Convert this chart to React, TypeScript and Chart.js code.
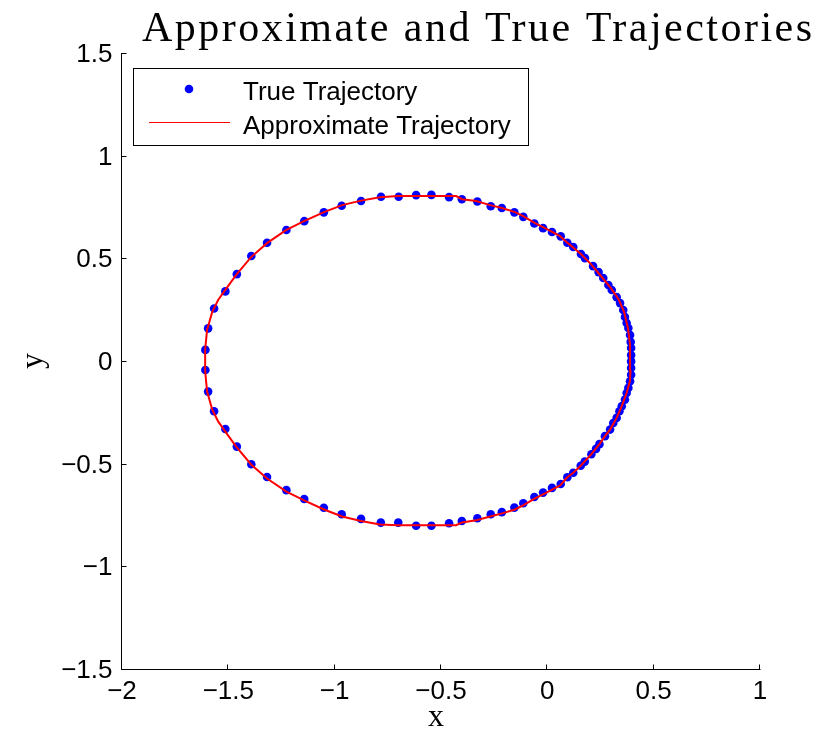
import { useEffect, useRef } from 'react';
import { Chart, registerables } from 'chart.js';

Chart.register(...registerables);

// Sampled points of the true orbit
const trueX = [
  0.394, 0.394, 0.392, 0.389, 0.381, 0.373, 0.365, 0.357, 0.342, 0.326,
  0.303, 0.287, 0.263, 0.241, 0.215, 0.177, 0.158, 0.122, 0.094, 0.063,
  0.022, -0.020, -0.061, -0.113, -0.155, -0.214, -0.266, -0.329, -0.402, -0.462,
  -0.545, -0.617, -0.699, -0.782, -0.876, -0.967, -1.051, -1.143, -1.227, -1.318,
  -1.392, -1.460, -1.514, -1.567, -1.595, -1.608, -1.608, -1.595, -1.567, -1.514,
  -1.460, -1.392, -1.318, -1.227, -1.143, -1.051, -0.967, -0.876, -0.783, -0.701,
  -0.617, -0.545, -0.462, -0.402, -0.329, -0.266, -0.214, -0.155, -0.113, -0.061,
  -0.020, 0.022, 0.063, 0.094, 0.122, 0.157, 0.176, 0.207, 0.229, 0.245,
  0.271, 0.295, 0.310, 0.326, 0.339, 0.350, 0.365, 0.373, 0.381, 0.389,
  0.394, 0.394, 0.394,
];
const trueY = [
  0.029, 0.063, 0.093, 0.127, 0.161, 0.185, 0.214, 0.248, 0.282, 0.311,
  0.346, 0.370, 0.404, 0.433, 0.462, 0.501, 0.521, 0.555, 0.576, 0.607,
  0.628, 0.647, 0.670, 0.702, 0.724, 0.745, 0.754, 0.777, 0.788, 0.798,
  0.809, 0.808, 0.800, 0.800, 0.779, 0.756, 0.724, 0.681, 0.638, 0.576,
  0.511, 0.423, 0.339, 0.256, 0.159, 0.054, -0.044, -0.149, -0.245, -0.331,
  -0.417, -0.503, -0.565, -0.629, -0.672, -0.715, -0.746, -0.769, -0.787, -0.787,
  -0.802, -0.802, -0.790, -0.779, -0.766, -0.746, -0.736, -0.714, -0.693, -0.662,
  -0.641, -0.618, -0.599, -0.566, -0.544, -0.510, -0.490, -0.454, -0.428, -0.405,
  -0.366, -0.334, -0.302, -0.277, -0.245, -0.220, -0.188, -0.156, -0.131, -0.099,
  -0.067, -0.034, -0.002,
];

// Vertices of the integrated (approximate) orbit
const approxX = [
  0.389, 0.389, 0.379, 0.361, 0.337, 0.299, 0.252, 0.205, 0.158, 0.097,
  0.060, -0.011, -0.058, -0.114, -0.152, -0.213, -0.269, -0.335, -0.401, -0.429,
  -0.702, -0.787, -0.876, -0.965, -1.050, -1.144, -1.229, -1.318, -1.393, -1.464,
  -1.515, -1.548, -1.576, -1.600, -1.609, -1.609, -1.600, -1.576, -1.548, -1.515,
  -1.464, -1.393, -1.318, -1.229, -1.144, -1.050, -0.965, -0.876, -0.787, -0.702,
  -0.429, -0.401, -0.335, -0.269, -0.213, -0.152, -0.114, -0.058, -0.011, 0.060,
  0.094, 0.122, 0.157, 0.207, 0.245, 0.271, 0.295, 0.326, 0.350, 0.373,
  0.388, 0.391, 0.389,
];
const approxY = [
  0.000, 0.078, 0.161, 0.238, 0.297, 0.355, 0.414, 0.472, 0.521, 0.574,
  0.608, 0.647, 0.672, 0.706, 0.725, 0.745, 0.759, 0.779, 0.788, 0.803,
  0.803, 0.798, 0.781, 0.759, 0.725, 0.681, 0.637, 0.574, 0.506, 0.418,
  0.345, 0.297, 0.238, 0.151, 0.054, -0.049, -0.148, -0.236, -0.294, -0.343,
  -0.416, -0.504, -0.572, -0.635, -0.679, -0.723, -0.757, -0.779, -0.796, -0.800,
  -0.800, -0.786, -0.776, -0.757, -0.742, -0.723, -0.703, -0.669, -0.645, -0.606,
  -0.566, -0.544, -0.510, -0.454, -0.405, -0.366, -0.334, -0.277, -0.220, -0.156,
  -0.099, -0.050, 0.000,
];

const xTickValues = [-2, -1.5, -1, -0.5, 0, 0.5, 1];
const xTickLabels = ['\u22122', '\u22121.5', '\u22121', '\u22120.5', '0', '0.5', '1'];
const yTickValues = [-1.5, -1, -0.5, 0, 0.5, 1, 1.5];
const yTickLabels = ['\u22121.5', '\u22121', '\u22120.5', '0', '0.5', '1', '1.5'];

const titleText = 'Approximate and True Trajectories';
const xLabel = 'x';
const yLabel = 'y';
const legendLabels = ['True Trajectory', 'Approximate Trajectory'];

const SANS = '"Liberation Sans", Arial, Helvetica, sans-serif';
const SERIF = '"Liberation Serif", "Times New Roman", serif';

// Draws the MATLAB-style frame: left/bottom axes with inward ticks, labels, title and legend.
const frame = {
  id: 'matlabFrame',
  afterDraw(chart: any) {
    const { ctx, chartArea, scales } = chart;
    const xs = scales.x;
    const ys = scales.y;
    const ax = Math.round(chartArea.left) - 0.5;
    const ay = Math.round(chartArea.bottom) + 0.5;
    const tick = 5;

    ctx.save();
    ctx.strokeStyle = '#000';
    ctx.lineWidth = 1;
    ctx.beginPath();
    ctx.moveTo(ax, Math.round(chartArea.top));
    ctx.lineTo(ax, ay);
    ctx.lineTo(Math.round(chartArea.right) + 0.5, ay);
    xTickValues.forEach((v) => {
      const px = Math.round(xs.getPixelForValue(v)) - 0.5;
      ctx.moveTo(px, ay);
      ctx.lineTo(px, ay - tick);
    });
    yTickValues.forEach((v) => {
      const py = Math.round(ys.getPixelForValue(v)) + 0.5;
      ctx.moveTo(ax, py);
      ctx.lineTo(ax + tick, py);
    });
    ctx.stroke();

    // tick labels
    ctx.fillStyle = '#000';
    ctx.font = `26px ${SANS}`;
    ctx.textBaseline = 'alphabetic';
    ctx.textAlign = 'center';
    xTickValues.forEach((v, i) => {
      ctx.fillText(xTickLabels[i], xs.getPixelForValue(v), ay + 29);
    });
    ctx.textAlign = 'right';
    yTickValues.forEach((v, i) => {
      ctx.fillText(yTickLabels[i], ax - 9, ys.getPixelForValue(v) + 9);
    });

    // title, spread to its measured span
    ctx.font = `42px ${SERIF}`;
    ctx.textAlign = 'left';
    const natural = ctx.measureText(titleText).width;
    const span = 670;
    const spacing = (span - natural) / (titleText.length - 1);
    (ctx as any).letterSpacing = `${spacing}px`;
    ctx.fillText(titleText, 142, 41);
    (ctx as any).letterSpacing = '0px';

    // axis labels
    ctx.font = `32px ${SERIF}`;
    ctx.textAlign = 'center';
    ctx.fillText(xLabel, xs.getPixelForValue(-0.5) - 5, 726);
    ctx.save();
    ctx.translate(42, ys.getPixelForValue(0));
    ctx.rotate(-Math.PI / 2);
    ctx.fillText(yLabel, 0, 0);
    ctx.restore();

    // legend
    const lx = 133.5;
    const ly = 68.5;
    const lw = 395;
    const lh = 77;
    ctx.fillStyle = '#fff';
    ctx.fillRect(lx, ly, lw, lh);
    ctx.strokeStyle = '#000';
    ctx.strokeRect(lx, ly, lw, lh);

    ctx.fillStyle = '#0000ff';
    ctx.beginPath();
    ctx.arc(189, 89, 4.3, 0, Math.PI * 2);
    ctx.fill();

    ctx.strokeStyle = '#ff0000';
    ctx.beginPath();
    ctx.moveTo(149, 122.5);
    ctx.lineTo(230, 122.5);
    ctx.stroke();

    ctx.fillStyle = '#000';
    ctx.font = `26px ${SANS}`;
    ctx.textAlign = 'left';
    ctx.fillText(legendLabels[0], 243, 100);
    ctx.fillText(legendLabels[1], 243, 134);
    ctx.restore();
  },
};

export default function App() {
  const canvasRef = useRef<HTMLCanvasElement>(null);

  useEffect(() => {
    const canvas = canvasRef.current;
    if (!canvas) return;
    const chart = new Chart(canvas, {
      type: 'scatter',
      data: {
        datasets: [
          {
            label: legendLabels[1],
            data: approxX.map((x, i) => ({ x, y: approxY[i] })),
            showLine: true,
            borderColor: '#ff0000',
            borderWidth: 2,
            pointRadius: 0,
            fill: false,
            tension: 0,
            order: 0,
          },
          {
            label: legendLabels[0],
            data: trueX.map((x, i) => ({ x, y: trueY[i] })),
            showLine: false,
            pointRadius: 4.3,
            pointBackgroundColor: '#0000ff',
            pointBorderWidth: 0,
            order: 1,
          },
        ],
      },
      options: {
        responsive: false,
        animation: false,
        devicePixelRatio: 1,
        events: [],
        layout: { padding: { left: 122, top: 53, right: 68, bottom: 64 } },
        scales: {
          x: { type: 'linear', min: -2, max: 1, display: false },
          y: { type: 'linear', min: -1.5, max: 1.5, display: false },
        },
        plugins: {
          legend: { display: false },
          tooltip: { enabled: false },
          title: { display: false },
        },
      },
      plugins: [frame],
    });
    return () => chart.destroy();
  }, []);

  return (
    <div style={{ position: 'absolute', left: 0, top: 0, width: 828, height: 733, background: '#fff' }}>
      <canvas ref={canvasRef} width={828} height={733} style={{ display: 'block' }} />
    </div>
  );
}
